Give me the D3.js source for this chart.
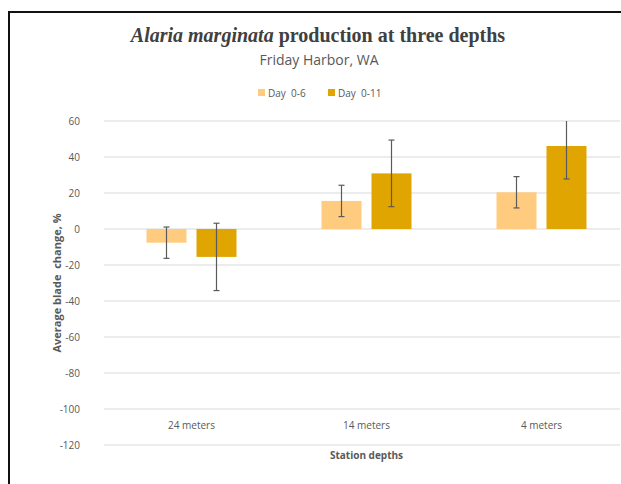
<!DOCTYPE html>
<html>
<head>
<meta charset="utf-8">
<script src="https://cdn.jsdelivr.net/npm/d3@7"></script>
<style>
  body { margin: 0; background: #fff; overflow: hidden; }
  svg { display: block; }
  .tick text { fill: #595959; font-family: "Open Sans", "Liberation Sans", sans-serif; font-size: 10px; }
</style>
</head>
<body>
<svg width="621" height="484"></svg>
<script>
const categories = ['24 meters', '14 meters', '4 meters'];
const series = ['Day  0-6', 'Day  0-11'];
const day06 = [-7.6, 15.6, 20.4];
const day011 = [-15.5, 30.9, 46.1];
const err06 = [8.7, 8.7, 8.7];
const err011 = [18.7, 18.5, 18.3];
const yTicks = [60, 40, 20, 0, -20, -40, -60, -80, -100, -120];

const svg = d3.select('svg');
const colors = ['#fecb7f', '#e0a500'];

const width = +svg.attr('width');
const margin = {top: 121, left: 104};
const innerWidth = 525;
const innerHeight = 324;
const gridWidth = width - 1 - margin.left;

const data = categories.map((c, i) => ({
    cat: c,
    vals: [
        {s: 0, v: day06[i], e: err06[i]},
        {s: 1, v: day011[i], e: err011[i]}
    ]
}));

// frame (runs off the right and bottom edges, like the cropped original)
svg.append('path')
    .attr('d', 'M9,484 V12 H621')
    .attr('fill', 'none')
    .attr('stroke', '#111')
    .attr('stroke-width', 2);

const xScale = d3.scaleBand()
    .domain(categories)
    .range([0, innerWidth]);

const xInner = d3.scaleBand()
    .domain([0, 1])
    .range([xScale.bandwidth() / 2 - 45, xScale.bandwidth() / 2 + 45])
    .paddingInner(0.2);

const yScale = d3.scaleLinear()
    .domain([-120, 60])
    .range([innerHeight, 0]);

const g = svg.append('g')
    .attr('transform', `translate(${margin.left},${margin.top})`);

// gridlines
g.append('g').selectAll('line').data(yTicks)
    .enter().append('line')
        .attr('x1', 0).attr('x2', gridWidth)
        .attr('y1', d => yScale(d)).attr('y2', d => yScale(d))
        .attr('stroke', '#d9d9d9');

const yAxisG = g.append('g')
    .call(d3.axisLeft(yScale)
        .tickValues(yTicks)
        .tickFormat(d => String(d))
        .tickSize(0)
        .tickPadding(24));
yAxisG.select('.domain').remove();
yAxisG.selectAll('.tick line').remove();
yAxisG.selectAll('.tick text').attr('font-size', 10.5);

const xAxisG = g.append('g')
    .attr('transform', `translate(0,${innerHeight})`)
    .call(d3.axisBottom(xScale).tickSize(0).tickPadding(0));
xAxisG.select('.domain').remove();
xAxisG.selectAll('.tick line').remove();
xAxisG.selectAll('.tick text').attr('y', -16).attr('dy', 0);

const groups = g.selectAll('.grp').data(data)
    .enter().append('g')
        .attr('class', 'grp')
        .attr('transform', d => `translate(${xScale(d.cat)},0)`);

groups.selectAll('rect').data(d => d.vals)
    .enter().append('rect')
        .attr('x', d => xInner(d.s))
        .attr('width', xInner.bandwidth())
        .attr('y', d => yScale(Math.max(0, d.v)))
        .attr('height', d => Math.abs(yScale(d.v) - yScale(0)))
        .attr('fill', d => colors[d.s]);

const clip = v => Math.min(60, v);
const eb = groups.selectAll('.err').data(d => d.vals)
    .enter().append('g')
        .attr('class', 'err')
        .attr('stroke', '#5a5a5a')
        .attr('stroke-width', 1.2);
const cx = d => xInner(d.s) + xInner.bandwidth() / 2;
eb.append('line')
    .attr('x1', cx).attr('x2', cx)
    .attr('y1', d => yScale(clip(d.v + d.e)))
    .attr('y2', d => yScale(d.v - d.e));
eb.filter(d => d.v + d.e <= 60).append('line')
    .attr('x1', d => cx(d) - 3).attr('x2', d => cx(d) + 3)
    .attr('y1', d => yScale(d.v + d.e)).attr('y2', d => yScale(d.v + d.e));
eb.append('line')
    .attr('x1', d => cx(d) - 3).attr('x2', d => cx(d) + 3)
    .attr('y1', d => yScale(d.v - d.e)).attr('y2', d => yScale(d.v - d.e));

// titles
const title = svg.append('text')
    .attr('x', 318).attr('y', 42)
    .attr('text-anchor', 'middle')
    .attr('fill', '#404040')
    .attr('font-family', '"Liberation Serif", serif')
    .attr('font-size', 20)
    .attr('font-weight', 'bold');
title.append('tspan').attr('font-style', 'italic').text('Alaria marginata');
title.append('tspan').text(' production at three depths');

svg.append('text')
    .attr('x', 319).attr('y', 65)
    .attr('text-anchor', 'middle')
    .attr('fill', '#595959')
    .attr('font-family', '"Open Sans", sans-serif')
    .attr('font-size', 14)
    .text('Friday Harbor, WA');

// legend
const legend = svg.append('g').attr('transform', 'translate(258,93)');
const legendX = [0, 70];
series.forEach((s, i) => {
    legend.append('rect')
        .attr('x', legendX[i]).attr('y', -4)
        .attr('width', 7).attr('height', 7)
        .attr('fill', colors[i]);
    legend.append('text')
        .attr('x', legendX[i] + 10).attr('y', 4)
        .attr('fill', '#595959')
        .attr('font-family', '"Open Sans", sans-serif')
        .attr('font-size', 10)
        .attr('xml:space', 'preserve')
        .text(s);
});

// axis titles
svg.append('text')
    .attr('transform', `translate(61,${margin.top + innerHeight / 2}) rotate(-90)`)
    .attr('text-anchor', 'middle')
    .attr('fill', '#595959')
    .attr('font-family', '"Open Sans", sans-serif')
    .attr('font-size', 11)
    .attr('font-weight', 'bold')
    .attr('xml:space', 'preserve')
    .text('Average blade  change, %');

svg.append('text')
    .attr('x', margin.left + innerWidth / 2).attr('y', 459)
    .attr('text-anchor', 'middle')
    .attr('fill', '#595959')
    .attr('font-family', '"Open Sans", sans-serif')
    .attr('font-size', 10)
    .attr('font-weight', 'bold')
    .text('Station depths');
</script>
</body>
</html>
